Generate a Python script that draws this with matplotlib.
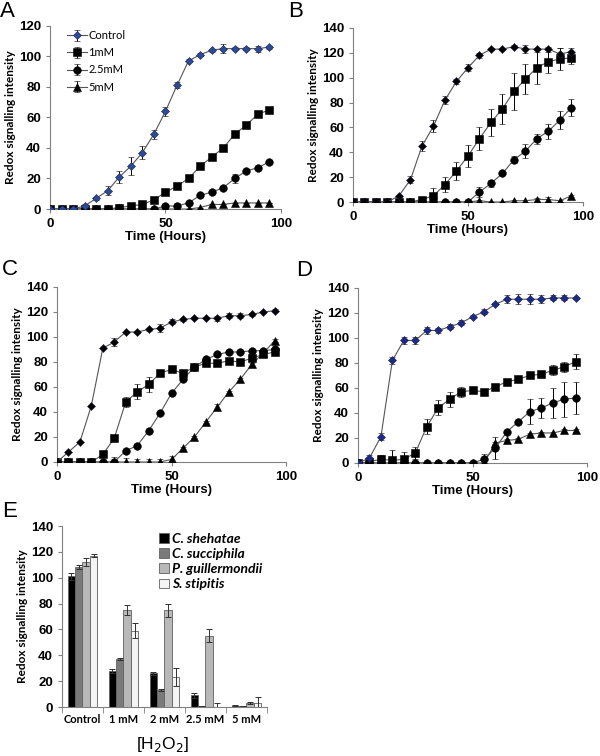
import numpy as np
import matplotlib
matplotlib.use("Agg")
import matplotlib.pyplot as plt

plt.rcParams['font.family'] = ['Liberation Sans', 'DejaVu Sans']

# time points (hours)
hours = [0, 5, 10, 15, 20, 25, 30, 35, 40, 45, 50, 55, 60, 65, 70, 75, 80, 85, 90, 95]
series_names = ['Control', '1mM', '2.5mM', '5mM']

# Panel A
a_control = [0, 0, 0, 2, 7, 12, 21, 28, 37, 49, 64, 81, 97, 101, 104, 105, 105, 105, 105, 106]
a_control_err = [0, 0, 0, 1, 1, 3, 4, 6, 4, 3, 3, 2, 1, 1, 1, 3, 1, 1, 2, 1]
a_1mm = [0, 0, 0, 0, 0, 0, 1, 2, 3, 6, 11, 15, 20, 28, 34, 40, 49, 55, 62, 65]
a_1mm_err = [0, 0, 0, 0, 0, 0, 2, 2, 1, 1, 1, 1, 1, 1, 1, 1, 1, 1, 1, 1]
a_25mm = [0, 0, 0, 0, 0, 0, 0, 0, 0, 0, 2, 2, 4, 9, 11, 14, 20, 25, 27, 31]
a_25mm_err = [0, 0, 0, 0, 0, 0, 2, 3, 2, 0, 1, 2, 1, 1, 1, 1, 3, 1, 1, 1]
a_5mm = [0, 0, 0, 0, 0, 0, 0, 0, 0, 0, 0, 0, 0, 1, 3, 3, 4, 4, 4, 4]
a_5mm_err = [0] * 20

# Panel B
b_control = [0, 0, 0, 0, 5, 18, 45, 61, 82, 97, 108, 118, 123, 123, 125, 123, 123, 123, 119, 121]
b_control_err = [0, 0, 0, 0, 1, 3, 4, 5, 3, 2, 3, 2, 1, 1, 1, 3, 1, 2, 5, 3]
b_1mm = [0, 0, 0, 0, 0, 0, 2, 5, 14, 25, 37, 51, 64, 75, 89, 99, 108, 113, 115, 116]
b_1mm_err = [0, 0, 0, 0, 0, 0, 2, 6, 6, 7, 9, 9, 11, 12, 15, 12, 13, 9, 9, 5]
b_25mm = [0, 0, 0, 0, 0, 0, 0, 0, 0, 0, 0, 8, 15, 23, 34, 41, 51, 57, 66, 76]
b_25mm_err = [0, 0, 0, 0, 0, 0, 0, 0, 0, 0, 0, 4, 3, 1, 3, 6, 4, 6, 7, 7]
b_5mm = [0, 0, 0, 0, 0, 0, 0, 0, 0, 0, 0, 1, 0, 0, 1, 1, 2, 2, 1, 5]
b_5mm_err = [0, 0, 0, 0, 0, 0, 0, 0, 0, 0, 0, 1, 0, 0, 1, 1, 1, 2, 1, 1]

# Panel C
c_control = [0, 8, 16, 45, 91, 96, 104, 104, 106, 107, 112, 114, 115, 115, 115, 117, 117, 118, 120, 121]
c_control_err = [0, 0, 0, 0, 0, 3, 1, 1, 1, 3, 2, 1, 1, 1, 2, 2, 2, 1, 1, 1]
c_1mm = [0, 0, 0, 0, 6, 19, 48, 56, 62, 71, 74, 71, 76, 79, 79, 81, 80, 83, 86, 88]
c_1mm_err = [0, 0, 0, 0, 1, 1, 4, 6, 6, 2, 1, 1, 1, 1, 1, 1, 1, 1, 1, 1]
c_25mm = [0, 0, 0, 0, 0, 0, 9, 13, 25, 39, 55, 66, 76, 82, 86, 88, 88, 89, 89, 90]
c_25mm_err = [0, 0, 0, 0, 0, 0, 1, 1, 1, 1, 1, 1, 1, 1, 1, 1, 1, 1, 1, 1]
c_5mm = [0, 0, 0, 0, 0, 0, 0, 0, 0, 0, 2, 11, 20, 32, 44, 56, 66, 78, 87, 97]
c_5mm_err = [0, 0, 0, 0, 0, 4, 3, 2, 2, 2, 3, 1, 1, 1, 2, 1, 1, 1, 1, 1]

# Panel D
d_control = [0, 4, 21, 82, 98, 98, 106, 106, 109, 112, 117, 121, 127, 131, 131, 131, 131, 132, 132, 132]
d_control_err = [0, 2, 3, 3, 3, 3, 3, 2, 2, 2, 1, 2, 1, 3, 4, 4, 3, 2, 2, 1]
d_1mm = [0, 1, 3, 2, 3, 8, 29, 44, 51, 57, 58, 57, 61, 65, 67, 70, 71, 74, 77, 81]
d_1mm_err = [0, 1, 3, 8, 6, 5, 6, 6, 6, 4, 2, 1, 1, 1, 1, 1, 1, 4, 4, 6]
d_25mm = [0, 0, 0, 0, 0, 0, 0, 0, 0, 0, 0, 3, 12, 25, 33, 41, 44, 48, 51, 52]
d_25mm_err = [0, 0, 0, 0, 0, 0, 0, 0, 0, 0, 0, 4, 9, 1, 1, 10, 8, 12, 14, 13]
d_5mm = [0, 0, 0, 0, 0, 0, 0, 0, 0, 0, 0, 0, 16, 18, 19, 23, 24, 24, 26, 26]
d_5mm_err = [0, 0, 0, 0, 0, 0, 0, 0, 0, 0, 0, 0, 1, 1, 1, 1, 1, 1, 1, 1]

# Panel E
e_categories = ['Control', '1 mM', '2 mM', '2.5 mM', '5 mM']
e_species = ['C. shehatae', 'C. succiphila', 'P. guillermondii', 'S. stipitis']
e_shehatae = [101, 28, 26, 9, 1]
e_shehatae_err = [3, 1.5, 1, 2, 0.3]
e_succiphila = [108, 37, 13, 0.5, 0.5]
e_succiphila_err = [1.5, 1, 1, 0, 0]
e_guillermondii = [112, 75, 75, 55, 3]
e_guillermondii_err = [3, 4, 5, 5, 1]
e_stipitis = [117, 59, 23, 0, 3]
e_stipitis_err = [1, 6, 7, 3, 5]

fig = plt.figure(figsize=(6, 7.56), dpi=100)

markers = ['D', 's', 'o', '^']
msizes = [4, 5.5, 5.5, 5.5]
lab_font = ['Lato', 'DejaVu Sans']


def style_axes(ax, ymax):
    for s in ['top', 'right']:
        ax.spines[s].set_visible(False)
    for s in ['left', 'bottom']:
        ax.spines[s].set_color('#808080')
        ax.spines[s].set_linewidth(0.8)
    ax.set_ylim(0, ymax)
    ax.tick_params(colors='#808080', length=3, width=0.8, labelcolor='black')
    for lbl in ax.get_xticklabels() + ax.get_yticklabels():
        lbl.set_fontweight('bold')
        lbl.set_fontsize(9.5)
    ax.set_ylabel('Redox signalling intensity', family=lab_font, fontweight='bold', fontsize=8.5, labelpad=2)


def line_panel(rect, letter, data, errs, ymax, ctrl_color, lpos, legend=False):
    ax = fig.add_axes(rect)
    for i, (y, e) in enumerate(zip(data, errs)):
        face = ctrl_color if i == 0 else 'black'
        ax.errorbar(hours, y, yerr=e, color='#555555', lw=0.8, ecolor='black', elinewidth=0.7,
                    capsize=2, capthick=0.7, marker=markers[i], ms=msizes[i], mfc=face,
                    mec='black' if i else '#202040', mew=0.4, label=series_names[i], zorder=3 + (3 - i))
    ax.set_xlim(0, 100)
    ax.set_xticks([0, 50, 100])
    ax.set_yticks(np.arange(0, ymax + 1, 20))
    style_axes(ax, ymax)
    ax.set_xlabel('Time (Hours)', fontsize=9.5, fontweight='bold', labelpad=1)
    ax.text(lpos[0], lpos[1], letter, transform=ax.transAxes, fontsize=16, va='center', ha='left')
    if legend:
        ax.legend(loc='upper left', bbox_to_anchor=(0.03, 1.03), frameon=False, handlelength=1.8,
                  labelspacing=0.55, prop={'family': lab_font, 'size': 8}, handletextpad=0.1)
    return ax


line_panel([0.0833, 0.7235, 0.385, 0.2425], 'A',
           [a_control, a_1mm, a_25mm, a_5mm], [a_control_err, a_1mm_err, a_25mm_err, a_5mm_err],
           120, '#2a4a9a', (-0.215, 1.08), legend=True)
line_panel([0.5883, 0.7328, 0.3833, 0.2302], 'B',
           [b_control, b_1mm, b_25mm, b_5mm], [b_control_err, b_1mm_err, b_25mm_err, b_5mm_err],
           140, 'black', (-0.28, 1.095))
line_panel([0.095, 0.3889, 0.3817, 0.2315], 'C',
           [c_control, c_1mm, c_25mm, c_5mm], [c_control_err, c_1mm_err, c_25mm_err, c_5mm_err],
           140, 'black', (-0.24, 1.10))
line_panel([0.5967, 0.3876, 0.3817, 0.2315], 'D',
           [d_control, d_1mm, d_25mm, d_5mm], [d_control_err, d_1mm_err, d_25mm_err, d_5mm_err],
           140, '#1a2a8a', (-0.27, 1.10))

# Panel E
ax = fig.add_axes([0.1033, 0.0648, 0.3417, 0.2394])
x = np.arange(len(e_categories))
w = 0.18
bar_vals = [e_shehatae, e_succiphila, e_guillermondii, e_stipitis]
bar_errs = [e_shehatae_err, e_succiphila_err, e_guillermondii_err, e_stipitis_err]
bar_colors = ['black', '#7a7a7a', '#b8b8b8', '#f4f4f4']
for i in range(4):
    ax.bar(x + (i - 1.5) * w, bar_vals[i], w, color=bar_colors[i], edgecolor='#606060', lw=0.6,
           yerr=bar_errs[i], capsize=2.5, error_kw=dict(elinewidth=0.7, capthick=0.7, ecolor='#303030'),
           label=e_species[i])
ax.set_xlim(-0.5, 4.5)
ax.set_xticks(x)
ax.set_xticks(np.arange(-0.5, 5, 1), minor=True)
ax.set_yticks(np.arange(0, 141, 20))
style_axes(ax, 140)
ax.tick_params(axis='x', which='major', length=0, pad=5)
ax.tick_params(axis='x', which='minor', length=4, color='#808080')
ax.set_xticklabels(e_categories, family=lab_font, fontweight='bold', fontsize=8)
ax.legend(loc='upper right', bbox_to_anchor=(1.04, 1.03), frameon=False, handlelength=0.7,
          handleheight=0.7, labelspacing=0.22, handletextpad=0.25,
          prop={'family': lab_font, 'size': 10, 'style': 'italic', 'weight': 'bold'})
ax.text(-0.29, 1.08, 'E', transform=ax.transAxes, fontsize=16, va='center', ha='left')
fig.text(163 / 600, 1 - 745 / 756, '[H$_2$O$_2$]', fontsize=12.5, ha='center', va='center')

fig.savefig('out.png', dpi=100)
